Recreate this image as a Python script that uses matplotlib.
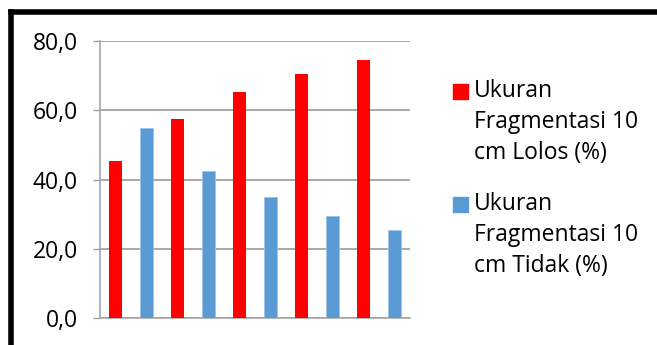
import matplotlib
matplotlib.use("Agg")
import matplotlib.pyplot as plt
from matplotlib.patches import Rectangle
from matplotlib.lines import Line2D
import numpy as np

# data
categories = ["1", "2", "3", "4", "5"]
lolos = [45.4, 57.5, 65.4, 70.5, 74.6]
tidak = [54.8, 42.5, 34.9, 29.5, 25.5]
series_labels = ["Ukuran\nFragmentasi 10\ncm Lolos (%)",
                 "Ukuran\nFragmentasi 10\ncm Tidak (%)"]
series_colors = ["#ff0000", "#5b9bd5"]
yticks = [0, 20, 40, 60, 80]

plt.rcParams['font.family'] = ['Open Sans', 'DejaVu Sans']

fig = plt.figure(figsize=(6.57, 3.45), dpi=100)
ax = fig.add_axes([100 / 657, 1 - 318 / 345, 310 / 657, 277 / 345])

x = np.arange(len(categories))
w = 0.21
ax.bar(x - 0.25, lolos, w, color=series_colors[0], zorder=3)
ax.bar(x + 0.25, tidak, w, color=series_colors[1], edgecolor="#9cc3e6",
       linewidth=0.6, zorder=3)

ax.set_xlim(-0.5, len(categories) - 0.5)
ax.set_ylim(0, 80)
ax.set_yticks(yticks)
ax.set_yticklabels([f"{v:.1f}".replace(".", ",") for v in yticks], fontsize=16.5)
ax.set_xticks([])
ax.tick_params(axis="y", length=5, width=1, color="#a0a0a0", pad=11)
ax.grid(axis="y", color="#999999", linewidth=1.2, zorder=0)
for s in ["top", "right"]:
    ax.spines[s].set_visible(False)
ax.spines["left"].set_color("#a6a6a6")
ax.spines["bottom"].set_color("#a6a6a6")
ax.spines["left"].set_linewidth(1.2)
ax.spines["bottom"].set_linewidth(1.2)

# legend, drawn by hand so the square sits on the first line
for i, (lab, col) in enumerate(zip(series_labels, series_colors)):
    top = 1 - (84 + i * 113) / 345
    fig.add_artist(Rectangle((453 / 657, top - 15 / 345), 15 / 657, 15 / 345,
                             color=col, transform=fig.transFigure))
    fig.text(474 / 657, top + 5 / 345, lab, fontsize=16.5, va="top", ha="left",
             linespacing=1.4)

# black frame on top and left of the cropped chart
fig.add_artist(Line2D([10.5 / 657, 10.5 / 657], [0, 1 - 11.5 / 345],
                      color="black", linewidth=4, transform=fig.transFigure,
                      solid_capstyle="projecting"))
fig.add_artist(Line2D([10.5 / 657, 1], [1 - 11.5 / 345, 1 - 11.5 / 345],
                      color="black", linewidth=4, transform=fig.transFigure,
                      solid_capstyle="projecting"))

fig.savefig("out.png", dpi=100)
